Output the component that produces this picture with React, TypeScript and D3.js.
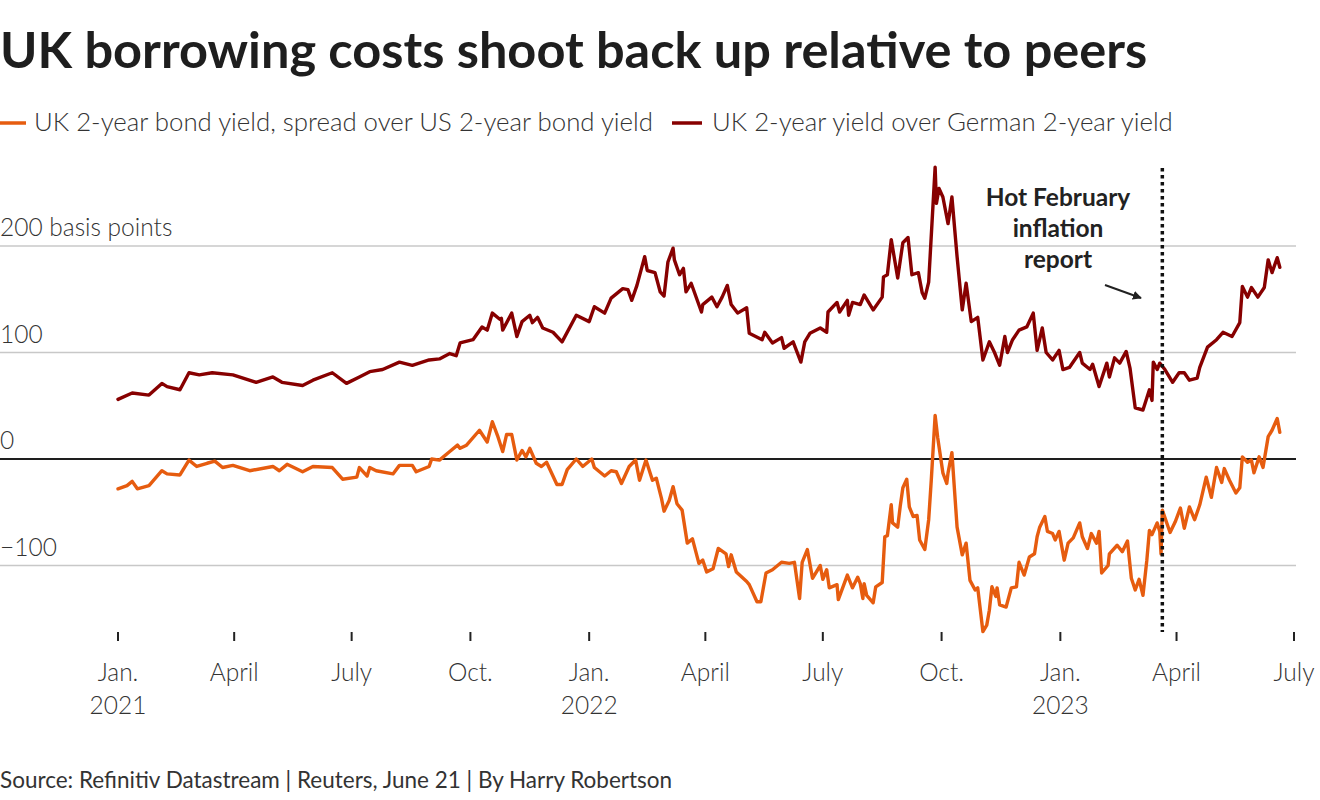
import React from "react";
import * as d3 from "d3";

const seriesNames = [
  "UK 2-year bond yield, spread over US 2-year bond yield",
  "UK 2-year yield over German 2-year yield",
];
const seriesColors = ["#e65c0f", "#870000"];

const ukUs: [string, number][] = [
  ["2021-01-01", -28], ["2021-01-08", -25], ["2021-01-12", -21], ["2021-01-16", -28], ["2021-01-25", -25],
  ["2021-02-04", -11], ["2021-02-08", -14], ["2021-02-18", -15], ["2021-02-25", -1], ["2021-03-03", -7],
  ["2021-03-11", -4], ["2021-03-17", -2], ["2021-03-23", -8], ["2021-03-31", -6], ["2021-04-13", -11],
  ["2021-05-01", -7], ["2021-05-06", -11], ["2021-05-12", -5], ["2021-05-24", -12], ["2021-06-01", -7],
  ["2021-06-16", -8], ["2021-06-24", -19], ["2021-07-05", -17], ["2021-07-07", -8], ["2021-07-13", -16],
  ["2021-07-15", -8], ["2021-07-20", -11], ["2021-08-02", -14], ["2021-08-07", -6], ["2021-08-17", -6],
  ["2021-08-20", -12], ["2021-08-30", -7], ["2021-09-01", 0], ["2021-09-07", -1], ["2021-09-15", 7],
  ["2021-09-21", 13], ["2021-09-23", 10], ["2021-09-28", 13], ["2021-10-08", 27], ["2021-10-14", 16],
  ["2021-10-18", 35], ["2021-10-22", 22], ["2021-10-26", 7], ["2021-10-29", 23], ["2021-11-02", 23],
  ["2021-11-06", -1], ["2021-11-10", 8], ["2021-11-13", 2], ["2021-11-16", 10], ["2021-11-21", -4],
  ["2021-11-25", -7], ["2021-11-29", -3], ["2021-12-07", -24], ["2021-12-11", -24], ["2021-12-15", -10],
  ["2021-12-22", 0], ["2021-12-27", -7], ["2022-01-03", 0], ["2022-01-05", -8], ["2022-01-13", -16],
  ["2022-01-18", -11], ["2022-01-22", -12], ["2022-01-26", -23], ["2022-02-01", -7], ["2022-02-06", -1],
  ["2022-02-09", -20], ["2022-02-14", -1], ["2022-02-19", -20], ["2022-02-22", -18], ["2022-02-26", -37],
  ["2022-02-28", -49], ["2022-03-04", -39], ["2022-03-07", -26], ["2022-03-10", -42], ["2022-03-14", -48],
  ["2022-03-18", -79], ["2022-03-22", -75], ["2022-03-27", -98], ["2022-03-30", -95], ["2022-04-02", -106],
  ["2022-04-07", -103], ["2022-04-11", -84], ["2022-04-17", -89], ["2022-04-19", -101], ["2022-04-21", -90],
  ["2022-04-25", -106], ["2022-05-03", -115], ["2022-05-05", -118], ["2022-05-11", -134], ["2022-05-14", -134],
  ["2022-05-18", -107], ["2022-05-23", -104], ["2022-05-30", -97], ["2022-06-05", -98], ["2022-06-09", -97],
  ["2022-06-13", -131], ["2022-06-15", -97], ["2022-06-19", -85], ["2022-06-23", -112], ["2022-06-29", -100],
  ["2022-07-01", -113], ["2022-07-04", -104], ["2022-07-06", -121], ["2022-07-12", -118], ["2022-07-13", -132],
  ["2022-07-20", -109], ["2022-07-24", -121], ["2022-07-28", -111], ["2022-07-30", -117], ["2022-08-01", -131],
  ["2022-08-02", -117], ["2022-08-04", -128], ["2022-08-09", -135], ["2022-08-11", -120], ["2022-08-16", -116],
  ["2022-08-18", -73], ["2022-08-20", -72], ["2022-08-23", -43], ["2022-08-24", -60], ["2022-08-28", -64],
  ["2022-08-30", -44], ["2022-09-01", -27], ["2022-09-04", -19], ["2022-09-06", -45], ["2022-09-09", -54],
  ["2022-09-12", -53], ["2022-09-14", -76], ["2022-09-18", -85], ["2022-09-21", -57], ["2022-09-23", -20],
  ["2022-09-26", 41], ["2022-09-28", 20], ["2022-10-02", -13], ["2022-10-05", -23], ["2022-10-06", -13],
  ["2022-10-09", 6], ["2022-10-13", -64], ["2022-10-17", -90], ["2022-10-20", -79], ["2022-10-23", -114],
  ["2022-10-27", -123], ["2022-10-29", -121], ["2022-11-02", -162], ["2022-11-05", -156], ["2022-11-07", -142],
  ["2022-11-09", -120], ["2022-11-12", -129], ["2022-11-13", -121], ["2022-11-15", -137], ["2022-11-20", -139],
  ["2022-11-24", -121], ["2022-11-28", -120], ["2022-11-30", -97], ["2022-12-04", -109], ["2022-12-08", -92],
  ["2022-12-12", -89], ["2022-12-14", -73], ["2022-12-16", -64], ["2022-12-20", -54], ["2022-12-22", -68],
  ["2022-12-26", -70], ["2022-12-28", -76], ["2022-12-31", -68], ["2023-01-04", -95], ["2023-01-07", -79],
  ["2023-01-11", -74], ["2023-01-16", -60], ["2023-01-18", -73], ["2023-01-22", -84], ["2023-01-25", -70],
  ["2023-01-29", -79], ["2023-01-31", -68], ["2023-02-02", -107], ["2023-02-07", -100], ["2023-02-08", -89],
  ["2023-02-14", -81], ["2023-02-18", -87], ["2023-02-22", -77], ["2023-02-25", -112], ["2023-02-28", -123],
  ["2023-03-03", -113], ["2023-03-06", -128], ["2023-03-09", -95], ["2023-03-11", -67], ["2023-03-13", -71],
  ["2023-03-17", -60], ["2023-03-19", -68], ["2023-03-20", -89], ["2023-03-21", -48], ["2023-03-27", -69],
  ["2023-03-31", -59], ["2023-04-04", -46], ["2023-04-07", -65], ["2023-04-11", -45], ["2023-04-15", -57],
  ["2023-04-19", -43], ["2023-04-24", -17], ["2023-04-28", -36], ["2023-05-02", -8], ["2023-05-06", -22],
  ["2023-05-08", -9], ["2023-05-12", -20], ["2023-05-17", -32], ["2023-05-20", -27], ["2023-05-22", 2],
  ["2023-05-26", -3], ["2023-05-29", -1], ["2023-05-31", -13], ["2023-06-04", 2], ["2023-06-07", -8],
  ["2023-06-11", 21], ["2023-06-14", 27], ["2023-06-18", 38], ["2023-06-20", 25],
];

const ukDe: [string, number][] = [
  ["2021-01-01", 56], ["2021-01-12", 62], ["2021-01-25", 60], ["2021-02-04", 71], ["2021-02-08", 68],
  ["2021-02-18", 65], ["2021-02-25", 81], ["2021-03-05", 79], ["2021-03-15", 81], ["2021-03-31", 79],
  ["2021-04-18", 72], ["2021-05-01", 77], ["2021-05-08", 72], ["2021-05-24", 69], ["2021-06-01", 74],
  ["2021-06-16", 81], ["2021-06-27", 71], ["2021-07-07", 77], ["2021-07-15", 82], ["2021-07-25", 84],
  ["2021-08-07", 91], ["2021-08-17", 88], ["2021-08-30", 93], ["2021-09-07", 94], ["2021-09-15", 99],
  ["2021-09-20", 97], ["2021-09-23", 109], ["2021-10-03", 112], ["2021-10-10", 124], ["2021-10-14", 121],
  ["2021-10-18", 137], ["2021-10-24", 131], ["2021-10-25", 132], ["2021-10-26", 121], ["2021-11-02", 137],
  ["2021-11-06", 115], ["2021-11-10", 129], ["2021-11-16", 135], ["2021-11-18", 128], ["2021-11-22", 133],
  ["2021-11-26", 123], ["2021-12-04", 119], ["2021-12-11", 110], ["2021-12-22", 135], ["2022-01-01", 129],
  ["2022-01-05", 143], ["2022-01-13", 137], ["2022-01-18", 151], ["2022-01-27", 160], ["2022-01-31", 159],
  ["2022-02-03", 149], ["2022-02-07", 163], ["2022-02-13", 190], ["2022-02-15", 177], ["2022-02-21", 175],
  ["2022-02-25", 157], ["2022-02-28", 153], ["2022-03-03", 185], ["2022-03-07", 198], ["2022-03-08", 187],
  ["2022-03-12", 173], ["2022-03-15", 179], ["2022-03-17", 157], ["2022-03-21", 165], ["2022-03-29", 138],
  ["2022-03-30", 145], ["2022-04-06", 152], ["2022-04-10", 143], ["2022-04-14", 152], ["2022-04-18", 163],
  ["2022-04-21", 145], ["2022-04-26", 137], ["2022-05-03", 142], ["2022-05-05", 118], ["2022-05-15", 112],
  ["2022-05-17", 119], ["2022-05-23", 109], ["2022-05-30", 114], ["2022-06-01", 104], ["2022-06-08", 110],
  ["2022-06-14", 91], ["2022-06-17", 110], ["2022-06-21", 118], ["2022-06-29", 123], ["2022-07-04", 119],
  ["2022-07-05", 138], ["2022-07-12", 147], ["2022-07-14", 138], ["2022-07-20", 149], ["2022-07-21", 135],
  ["2022-07-24", 147], ["2022-07-30", 145], ["2022-08-02", 154], ["2022-08-09", 140], ["2022-08-16", 152],
  ["2022-08-17", 171], ["2022-08-20", 173], ["2022-08-23", 206], ["2022-08-28", 170], ["2022-09-01", 203],
  ["2022-09-05", 208], ["2022-09-08", 173], ["2022-09-13", 175], ["2022-09-16", 156], ["2022-09-18", 151],
  ["2022-09-21", 166], ["2022-09-26", 274], ["2022-09-27", 240], ["2022-09-29", 254], ["2022-10-02", 246],
  ["2022-10-06", 221], ["2022-10-09", 246], ["2022-10-13", 190], ["2022-10-17", 140], ["2022-10-20", 165],
  ["2022-10-24", 129], ["2022-10-29", 133], ["2022-11-02", 93], ["2022-11-07", 110], ["2022-11-11", 100],
  ["2022-11-15", 88], ["2022-11-19", 115], ["2022-11-21", 100], ["2022-11-25", 112], ["2022-11-30", 121],
  ["2022-12-06", 124], ["2022-12-11", 137], ["2022-12-14", 102], ["2022-12-18", 123], ["2022-12-21", 100],
  ["2022-12-26", 93], ["2022-12-31", 102], ["2023-01-03", 84], ["2023-01-08", 86], ["2023-01-16", 100],
  ["2023-01-18", 90], ["2023-01-24", 84], ["2023-01-26", 89], ["2023-01-31", 68], ["2023-02-06", 90],
  ["2023-02-08", 77], ["2023-02-12", 95], ["2023-02-16", 90], ["2023-02-21", 101], ["2023-02-24", 85],
  ["2023-02-28", 48], ["2023-03-06", 46], ["2023-03-11", 65], ["2023-03-13", 55], ["2023-03-14", 91],
  ["2023-03-17", 84], ["2023-03-19", 90], ["2023-03-23", 84], ["2023-03-29", 72], ["2023-04-03", 81],
  ["2023-04-07", 81], ["2023-04-11", 74], ["2023-04-17", 76], ["2023-04-19", 86], ["2023-04-25", 105],
  ["2023-05-02", 112], ["2023-05-07", 119], ["2023-05-14", 115], ["2023-05-20", 128], ["2023-05-22", 162],
  ["2023-05-26", 152], ["2023-05-29", 161], ["2023-06-03", 152], ["2023-06-08", 161], ["2023-06-11", 187],
  ["2023-06-14", 175], ["2023-06-18", 189], ["2023-06-20", 180],
];

const yTicks = [200, 100, 0, -100];
const yTickLabels = ["200 basis points", "100", "0", "\u2212100"];
const xTicks = ["2021-01-01", "2021-04-01", "2021-07-01", "2021-10-01", "2022-01-01", "2022-04-01", "2022-07-01", "2022-10-01", "2023-01-01", "2023-04-01", "2023-07-01"];
const xTickLabels = ["Jan.", "April", "July", "Oct.", "Jan.", "April", "July", "Oct.", "Jan.", "April", "July"];
const xTickYears = ["2021", "", "", "", "2022", "", "", "", "2023", "", ""];
const eventDate = "2023-03-21";
const eventLabel = ["Hot February", "inflation", "report"];

const W = 1320;
const H = 800;
const FONT = "Lato, 'Noto Sans', sans-serif";

export default function App() {
  const parse = d3.utcParse("%Y-%m-%d");
  const x = d3.scaleUtc().domain([parse("2021-01-01")!, parse("2023-07-01")!]).range([118, 1294]);
  const y = d3.scaleLinear().domain([-100, 200]).range([565.5, 246]);
  const line = d3
    .line<[string, number]>()
    .x((d) => x(parse(d[0])!))
    .y((d) => y(d[1]))
    .curve(d3.curveLinear);

  const ex = x(parse(eventDate)!);
  const series = [ukUs, ukDe];

  return (
    <div style={{ position: "absolute", left: 0, top: 0 }}>
      <svg width={W} height={H} style={{ display: "block", background: "#fff" }} fontFamily={FONT}>
        <defs>
          <marker id="arrowhead" viewBox="0 0 10 10" refX="9" refY="5" markerWidth="4.5" markerHeight="4.5" orient="auto">
            <path d="M0,0 L10,5 L0,10 Z" fill="#222" />
          </marker>
        </defs>
        <text x={0} y={68} fontSize={50.5} fontWeight={700} fill="#1e1e1e">
          UK borrowing costs shoot back up relative to peers
        </text>

        {/* legend */}
        <line x1={0} x2={26} y1={123} y2={123} stroke={seriesColors[0]} strokeWidth={3.5} />
        <text x={34} y={131} fontSize={25.8} fontWeight={300} fill="#333">{seriesNames[0]}</text>
        <line x1={672} x2={702} y1={123} y2={123} stroke={seriesColors[1]} strokeWidth={3.5} />
        <text x={712} y={131} fontSize={25.8} fontWeight={300} fill="#333">{seriesNames[1]}</text>

        {/* gridlines */}
        {yTicks.map((t, i) => (
          <g key={t}>
            <line
              x1={0}
              x2={1296}
              y1={y(t)}
              y2={y(t)}
              stroke={t === 0 ? "#1e1e1e" : "#c8c8c8"}
              strokeWidth={t === 0 ? 2 : 1.5}
            />
            <text x={0} y={y(t) - 10} fontSize={24.5} fontWeight={300} fill="#333">
              {yTickLabels[i]}
            </text>
          </g>
        ))}

        {/* x axis */}
        {xTicks.map((t, i) => {
          const xp = x(parse(t)!);
          return (
            <g key={t}>
              <line x1={xp} x2={xp} y1={632} y2={641} stroke="#222" strokeWidth={2} />
              <text x={xp} y={681} fontSize={24.5} fontWeight={300} fill="#333" textAnchor="middle">
                {xTickLabels[i]}
              </text>
              {xTickYears[i] && (
                <text x={xp} y={714} fontSize={24.5} fontWeight={300} fill="#333" textAnchor="middle">
                  {xTickYears[i]}
                </text>
              )}
            </g>
          );
        })}

        {/* series */}
        {series.map((s, i) => (
          <path
            key={i}
            d={line(s) || ""}
            fill="none"
            stroke={seriesColors[i]}
            strokeWidth={3.4}
            strokeLinejoin="round"
            strokeLinecap="round"
          />
        ))}

        {/* event line */}
        <line x1={ex} x2={ex} y1={168} y2={632} stroke="#111" strokeWidth={3.5} strokeDasharray="3.5,3.5" />
        {eventLabel.map((l, i) => (
          <text key={l} x={1058} y={206 + i * 31} fontSize={24.5} fontWeight={700} fill="#222" textAnchor="middle">
            {l}
          </text>
        ))}
        <line x1={1105} y1={285} x2={1141} y2={298} stroke="#222" strokeWidth={2} markerEnd="url(#arrowhead)" />

        <text x={0} y={788} fontSize={22.5} fontWeight={400} fill="#333">
          Source: Refinitiv Datastream | Reuters, June 21 | By Harry Robertson
        </text>
      </svg>
    </div>
  );
}
